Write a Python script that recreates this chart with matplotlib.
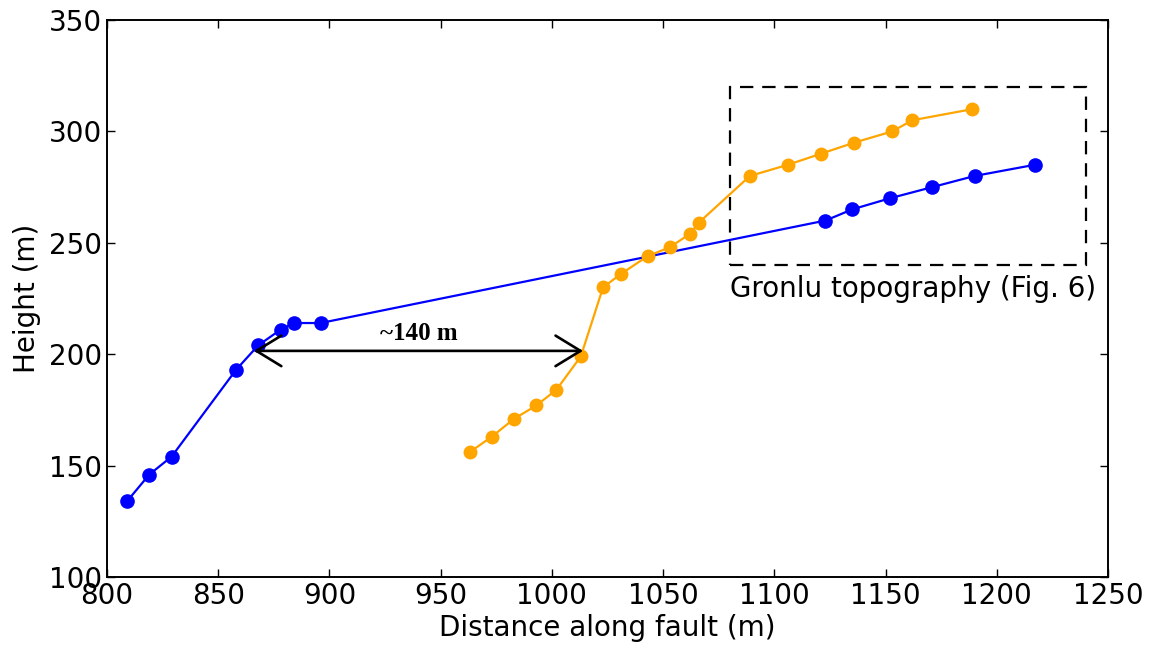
import matplotlib
matplotlib.use("Agg")
import matplotlib.pyplot as plt
from matplotlib.patches import Rectangle, ArrowStyle

# Profile heights along the fault
blue_x = [809, 819, 829, 858, 868, 878, 884, 896, 1123, 1135, 1152, 1171, 1190, 1217]
blue_y = [134, 146, 154, 193, 204, 211, 214, 214, 260, 265, 270, 275, 280, 285]

orange_x = [963, 973, 983, 993, 1002, 1013, 1023, 1031, 1043, 1053, 1062, 1066,
            1089, 1106, 1121, 1136, 1153, 1162, 1189]
orange_y = [156, 163, 171, 177, 184, 199, 230, 236, 244, 248, 254, 259,
            280, 285, 290, 295, 300, 305, 310]

# Offset annotation and inset box
offset_start = 866
offset_end = 1014
offset_y = 201.5
offset_label = "~140 m"
box_x = (1080, 1240)
box_y = (240, 320)
box_label = "Gronlu topography (Fig. 6)"

xticks = [800, 850, 900, 950, 1000, 1050, 1100, 1150, 1200, 1250]
yticks = [100, 150, 200, 250, 300, 350]

fig = plt.figure(figsize=(11.52, 6.54), dpi=100)
ax = fig.add_axes([0.0929, 0.1177, 0.8689, 0.8517])

ax.plot(blue_x, blue_y, color="#0000ff", lw=1.6, marker="o", ms=9.5, mec="#0000ff")
ax.plot(orange_x, orange_y, color="#ffa500", lw=1.6, marker="o", ms=9, mec="#ffa500")

ax.add_patch(Rectangle((box_x[0], box_y[0]), box_x[1] - box_x[0], box_y[1] - box_y[0],
                       fill=False, ec="black", lw=1.6, ls=(0, (6, 4))))
ax.text(box_x[0], box_y[0] - 4.5, box_label, fontsize=20, ha="left", va="top")

ax.annotate("", xy=(offset_end, offset_y), xytext=(offset_start, offset_y),
            arrowprops=dict(arrowstyle=ArrowStyle("<->", head_length=0.9, head_width=0.55),
                            mutation_scale=20, lw=1.9, color="black",
                            shrinkA=0, shrinkB=0))
ax.text((offset_start + offset_end) / 2, offset_y + 8, offset_label,
        fontsize=18, fontweight="bold", family="Liberation Serif",
        ha="center", va="center")

ax.set_xlim(800, 1250)
ax.set_ylim(100, 350)
ax.set_xticks(xticks)
ax.set_yticks(yticks)
ax.tick_params(direction="in", top=True, right=True, labelsize=20, length=6, width=1)
for s in ax.spines.values():
    s.set_linewidth(1.4)
ax.set_xlabel("Distance along fault (m)", fontsize=20, labelpad=3)
ax.set_ylabel("Height (m)", fontsize=20, labelpad=6)

fig.savefig("out.png", dpi=100)
